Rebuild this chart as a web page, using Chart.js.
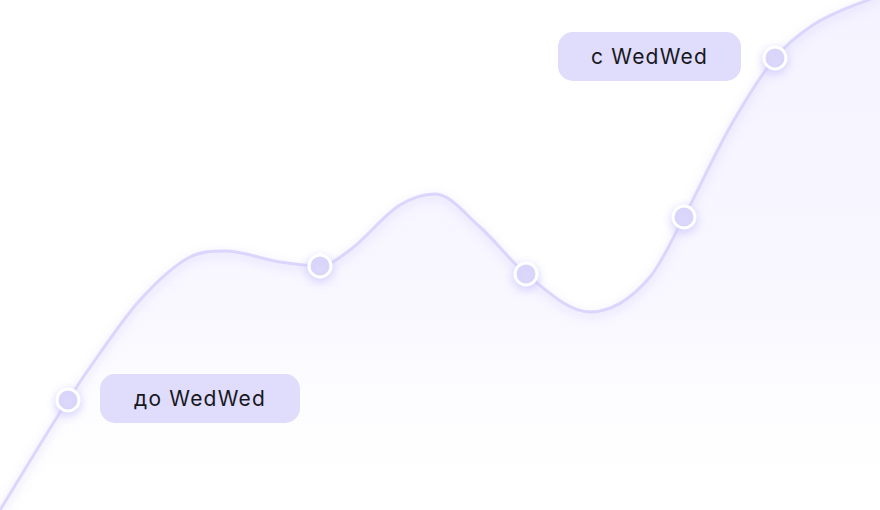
<!DOCTYPE html>
<html>
<head>
<meta charset="utf-8">
<script src="https://cdn.jsdelivr.net/npm/chart.js@4"></script>
<style>
  body { margin: 0; background: #fff; }
  .wrap { position: relative; width: 880px; height: 510px; overflow: hidden; }
  .tag {
    position: absolute;
    height: 49px;
    line-height: 49px;
    border-radius: 15px;
    background: #dfdcfc;
    color: #18181c;
    font-family: Inter, "Open Sans", sans-serif;
    font-size: 21px;
    letter-spacing: 1.2px;
    text-align: center;
  }
</style>
</head>
<body>
<div class="wrap">
  <canvas id="growth" width="880" height="510"></canvas>
  <div class="tag" style="left:100px; top:374px; width:200px;">до WedWed</div>
  <div class="tag" style="left:558px; top:32px; width:183px;">с WedWed</div>
</div>
<script>
  // positions along the curve and its height
  const xs = [0, 68, 100, 140, 190, 225, 280, 320, 350, 400, 435, 480, 526, 590, 650, 684, 730, 775, 813, 880];
  const values = [0, 110, 157, 210, 253, 259, 248, 244, 260, 305, 316, 283, 236, 198, 233, 293, 383, 452, 485, 515];
  // which samples get a visible marker
  const markers = [68, 320, 526, 684, 775];

  const glow = {
    id: "glow",
    beforeDatasetDraw(chart) {
      const c = chart.ctx;
      c.save();
      c.shadowColor = "rgba(200, 192, 252, 0.7)";
      c.shadowBlur = 10;
      c.shadowOffsetY = 3;
    },
    afterDatasetDraw(chart) {
      chart.ctx.restore();
    },
  };

  const ctx = document.getElementById("growth").getContext("2d");
  const grad = ctx.createLinearGradient(0, 0, 0, 510);
  grad.addColorStop(0, "rgba(244, 242, 255, 0.95)");
  grad.addColorStop(0.6, "rgba(247, 245, 255, 0.8)");
  grad.addColorStop(1, "rgba(255, 255, 255, 0.2)");

  new Chart(ctx, {
    type: "line",
    data: {
      datasets: [
        {
          data: xs.map((x, i) => ({ x: x, y: values[i] })),
          borderColor: "rgba(216, 211, 252, 0.9)",
          borderWidth: 3,
          backgroundColor: grad,
          fill: "origin",
          cubicInterpolationMode: "monotone",
          pointRadius: xs.map((x) => (markers.includes(x) ? 11 : 0)),
          pointBackgroundColor: "#dddafb",
          pointBorderColor: "#ffffff",
          pointBorderWidth: 3,
          clip: false,
        },
      ],
    },
    options: {
      responsive: false,
      animation: false,
      layout: { padding: 0 },
      scales: {
        x: { type: "linear", min: 0, max: 880, display: false },
        y: { min: 0, max: 510, display: false },
      },
      plugins: {
        legend: { display: false },
        tooltip: { enabled: false },
      },
    },
    plugins: [glow],
  });
</script>
</body>
</html>
